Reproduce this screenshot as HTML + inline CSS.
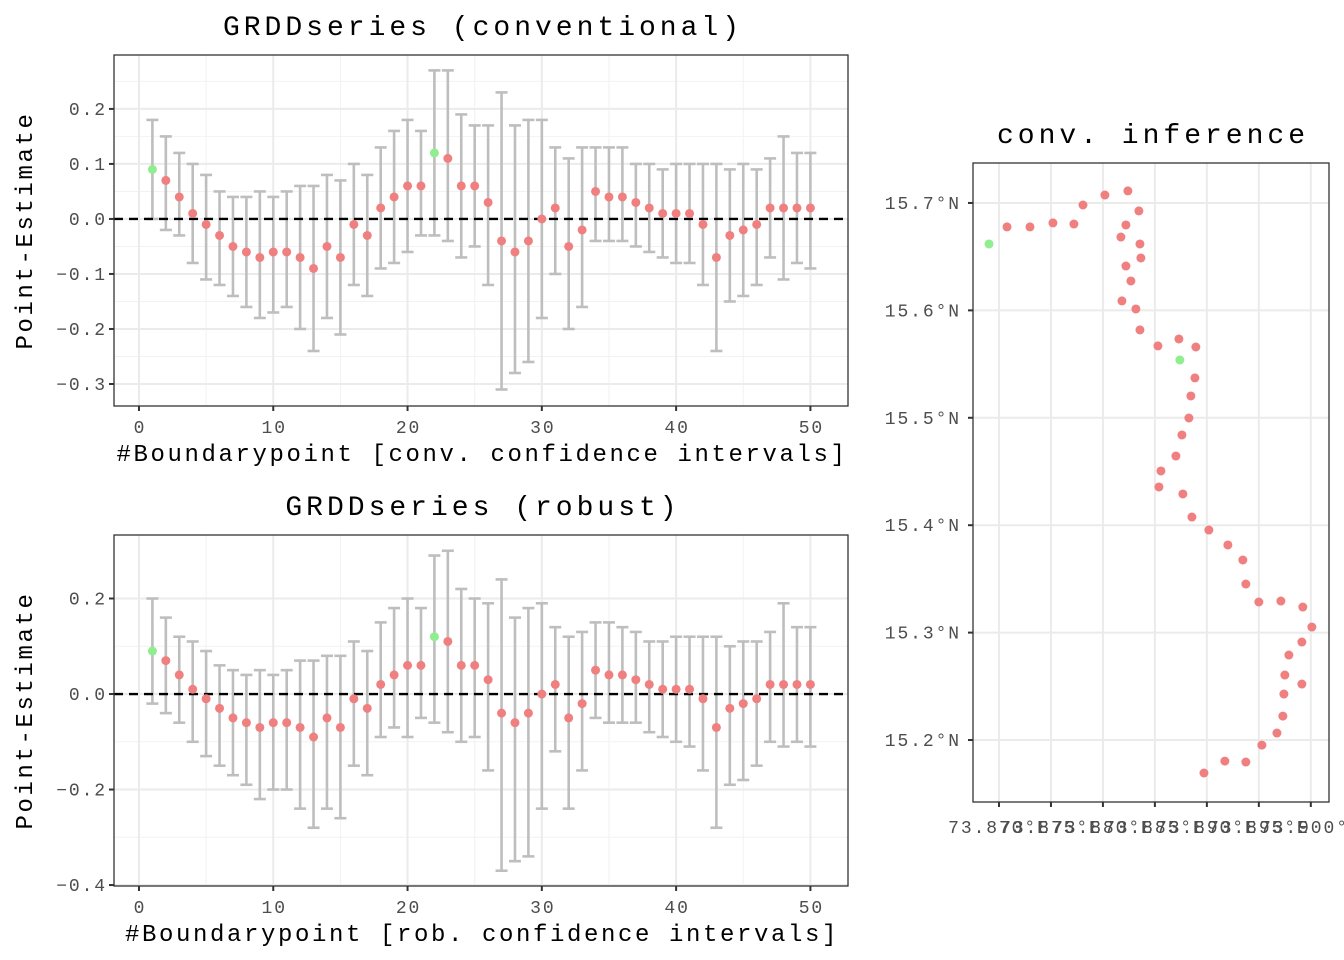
<!DOCTYPE html>
<html><head><meta charset="utf-8">
<style>
html,body{margin:0;padding:0;background:#fff;}
svg{display:block;font-family:"Liberation Mono",monospace;}
.title{font-size:28px;letter-spacing:4px;}
.axt{font-size:24px;letter-spacing:2.6px;}
.tick{font-size:18px;letter-spacing:1.9px;fill:#4d4d4d;}
</style></head>
<body>
<svg id="chart" width="1344" height="960" viewBox="0 0 1344 960" xmlns="http://www.w3.org/2000/svg"></svg>
<script>
// ---- data ----
const boundaryPoints = Array.from({length:50},(_,i)=>i+1);
const estimates = [0.09,0.07,0.04,0.01,-0.01,-0.03,-0.05,-0.06,-0.07,-0.06,-0.06,-0.07,-0.09,-0.05,-0.07,-0.01,-0.03,0.02,0.04,0.06,0.06,0.12,0.11,0.06,0.06,0.03,-0.04,-0.06,-0.04,0.00,0.02,-0.05,-0.02,0.05,0.04,0.04,0.03,0.02,0.01,0.01,0.01,-0.01,-0.07,-0.03,-0.02,-0.01,0.02,0.02,0.02,0.02];
const convLower = [0.00,-0.02,-0.03,-0.08,-0.11,-0.12,-0.14,-0.16,-0.18,-0.17,-0.16,-0.20,-0.24,-0.18,-0.21,-0.12,-0.14,-0.09,-0.08,-0.06,-0.03,-0.03,-0.04,-0.07,-0.05,-0.12,-0.31,-0.28,-0.26,-0.18,-0.10,-0.20,-0.16,-0.04,-0.04,-0.04,-0.05,-0.06,-0.07,-0.08,-0.08,-0.12,-0.24,-0.15,-0.14,-0.12,-0.07,-0.11,-0.08,-0.09];
const convUpper = [0.18,0.15,0.12,0.10,0.08,0.05,0.04,0.04,0.05,0.04,0.05,0.06,0.06,0.08,0.07,0.10,0.08,0.13,0.16,0.18,0.16,0.27,0.27,0.19,0.17,0.17,0.23,0.17,0.18,0.18,0.13,0.11,0.13,0.13,0.13,0.13,0.10,0.10,0.09,0.10,0.10,0.10,0.10,0.09,0.10,0.09,0.11,0.15,0.12,0.12];
const robLower = [-0.02,-0.04,-0.06,-0.10,-0.13,-0.15,-0.17,-0.19,-0.22,-0.20,-0.20,-0.24,-0.28,-0.24,-0.26,-0.15,-0.17,-0.09,-0.07,-0.09,-0.05,-0.06,-0.08,-0.10,-0.09,-0.16,-0.37,-0.35,-0.34,-0.24,-0.12,-0.24,-0.16,-0.05,-0.06,-0.06,-0.06,-0.08,-0.09,-0.10,-0.11,-0.16,-0.28,-0.19,-0.18,-0.15,-0.10,-0.11,-0.10,-0.11];
const robUpper = [0.20,0.16,0.12,0.11,0.09,0.06,0.05,0.04,0.05,0.04,0.05,0.07,0.07,0.08,0.08,0.11,0.09,0.15,0.18,0.20,0.18,0.29,0.30,0.22,0.20,0.19,0.24,0.16,0.18,0.19,0.14,0.12,0.13,0.15,0.15,0.14,0.13,0.11,0.11,0.12,0.12,0.12,0.12,0.10,0.11,0.11,0.13,0.19,0.14,0.14];
const highlighted = [1,22];
const xTicks = [0,10,20,30,40,50];
const convYTicks = [0.2,0.1,0.0,-0.1,-0.2,-0.3];
const robYTicks = [0.2,0.0,-0.2,-0.4];
const lons = [73.86904,73.87077,73.87298,73.87519,73.87721,73.87808,73.88019,73.88240,73.88346,73.88221,73.88173,73.88356,73.88365,73.88221,73.88269,73.88183,73.88317,73.88356,73.88529,73.88731,73.88894,73.88740,73.88885,73.88846,73.88827,73.88760,73.88702,73.88558,73.88539,73.88769,73.88856,73.89019,73.89202,73.89346,73.89375,73.89500,73.89712,73.89923,73.90010,73.89914,73.89789,73.89750,73.89914,73.89741,73.89731,73.89674,73.89529,73.89375,73.89173,73.88972];
const lats = [15.6618,15.6777,15.6777,15.6814,15.6804,15.6981,15.7074,15.7112,15.6926,15.6795,15.6683,15.6618,15.6488,15.6413,15.6274,15.6088,15.6013,15.5818,15.5669,15.5734,15.5659,15.5538,15.5371,15.5203,15.4998,15.4840,15.4644,15.4505,15.4356,15.4291,15.4076,15.3955,15.3816,15.3676,15.3452,15.3285,15.3294,15.3238,15.3052,15.2912,15.2791,15.2605,15.2521,15.2428,15.2223,15.2065,15.1953,15.1795,15.1804,15.1693];
const lonTicks = [73.870,73.875,73.880,73.885,73.890,73.895,73.900];
const lonTickLabels = ["73.870°E","73.875°E","73.880°E","73.885°E","73.890°E","73.895°E","73.900°E"];
const latTicks = [15.7,15.6,15.5,15.4,15.3,15.2];

const NS="http://www.w3.org/2000/svg";
const svg=document.getElementById('chart');
function mk(tag,attrs,parent,text){const e=document.createElementNS(NS,tag);for(const k in attrs)e.setAttribute(k,attrs[k]);if(text!==undefined)e.textContent=text;(parent||svg).appendChild(e);return e;}
function lin(d0,d1,r0,r1){return v=>r0+(v-d0)*(r1-r0)/(d1-d0);}
function fmt(v){return (v<0?"\u22120":"0")+"."+Math.round(Math.abs(v)*10);}

function errorPanel(name,top,yTop,yBot,yTicks,yMinor,lower,upper,title,xtitle){
  const L=114,R=848,T=top,B=top+351;
  const x=lin(-1.86,52.8,L,R), y=lin(yTop,yBot,T,B);
  const g=mk('g',{},svg);
  
  
  const bg=mk('rect',{x:L,y:T,width:R-L,height:B-T,fill:'#fff'},g);
  
  [5,15,25,35,45].forEach(v=>mk('line',{x1:x(v),x2:x(v),y1:T,y2:B,stroke:'#f2f2f2','stroke-width':1},g));
  yMinor.forEach(v=>mk('line',{x1:L,x2:R,y1:y(v),y2:y(v),stroke:'#f2f2f2','stroke-width':1},g));
  xTicks.forEach(v=>mk('line',{x1:x(v),x2:x(v),y1:T,y2:B,stroke:'#ebebeb','stroke-width':2},g));
  yTicks.forEach(v=>mk('line',{x1:L,x2:R,y1:y(v),y2:y(v),stroke:'#ebebeb','stroke-width':2},g));
  boundaryPoints.forEach((bp,i)=>{
    const eb=mk('g',{stroke:'#bebebe','stroke-width':2.6,fill:'none'},g);
    
    const xc=x(bp);
    mk('line',{x1:xc,x2:xc,y1:y(upper[i]),y2:y(lower[i])},eb);
    mk('line',{x1:xc-6,x2:xc+6,y1:y(upper[i]),y2:y(upper[i])},eb);
    mk('line',{x1:xc-6,x2:xc+6,y1:y(lower[i]),y2:y(lower[i])},eb);
  });
  const zl=mk('line',{x1:L,x2:R,y1:y(0),y2:y(0),stroke:'#000','stroke-width':2.4,'stroke-dasharray':'9,6'},g);
  
  boundaryPoints.forEach((bp,i)=>{
    const c=mk('circle',{cx:x(bp),cy:y(estimates[i]),r:4.5,fill:highlighted.includes(bp)?'#90ee90':'#f08080'},g);
    
  });
  mk('rect',{x:L,y:T,width:R-L,height:B-T,fill:'none',stroke:'#333','stroke-width':1.3},g);
  xTicks.forEach(v=>{
    mk('line',{x1:x(v),x2:x(v),y1:B,y2:B+5,stroke:'#333','stroke-width':2},g);
    const t=mk('text',{x:x(v)+1,y:B+27,'text-anchor':'middle','class':'tick'},g,String(v));
    
  });
  yTicks.forEach(v=>{
    mk('line',{x1:L-5,x2:L,y1:y(v),y2:y(v),stroke:'#333','stroke-width':2},g);
    const t=mk('text',{x:L-7,y:y(v)+6,'text-anchor':'end','class':'tick'},g,fmt(v));
    
  });
  const tt=mk('text',{x:(L+R)/2+2,y:T-20,'text-anchor':'middle','class':'title',fill:'#000'},g,title);
  
  const xt=mk('text',{x:(L+R)/2+1,y:B+55,'text-anchor':'middle','class':'axt',fill:'#000'},g,xtitle);
  
  const yt=mk('text',{x:0,y:0,'text-anchor':'middle','class':'axt',fill:'#000',transform:`translate(32,${(T+B)/2}) rotate(-90)`},g,'Point-Estimate');
  
}
errorPanel('conventional-panel',55,0.298,-0.34,convYTicks,[0.25,0.15,0.05,-0.05,-0.15,-0.25],convLower,convUpper,'GRDDseries (conventional)','#Boundarypoint [conv. confidence intervals]');
errorPanel('robust-panel',535,0.333,-0.402,robYTicks,[0.1,-0.1,-0.3],robLower,robUpper,'GRDDseries (robust)','#Boundarypoint [rob. confidence intervals]');

// map panel
(function(){
  const L=973,R=1329,T=163,B=802;
  const x=lin(73.8675,73.90175,L,R), y=lin(15.7372,15.1423,T,B);
  const g=mk('g',{},svg);
  
  
  lonTicks.forEach(v=>mk('line',{x1:x(v),x2:x(v),y1:T,y2:B,stroke:'#ebebeb','stroke-width':2},g));
  latTicks.forEach(v=>mk('line',{x1:L,x2:R,y1:y(v),y2:y(v),stroke:'#ebebeb','stroke-width':2},g));
  lons.forEach((lo,i)=>{
    const c=mk('circle',{cx:x(lo),cy:y(lats[i]),r:4.5,fill:highlighted.includes(i+1)?'#90ee90':'#f08080'},g);
    
  });
  mk('rect',{x:L,y:T,width:R-L,height:B-T,fill:'none',stroke:'#333','stroke-width':1.3},g);
  lonTicks.forEach((v,i)=>{
    mk('line',{x1:x(v),x2:x(v),y1:B,y2:B+5,stroke:'#333','stroke-width':2},g);
    const t=mk('text',{x:x(v),y:B+31,'text-anchor':'middle','class':'tick'},g,lonTickLabels[i]);
    
  });
  latTicks.forEach(v=>{
    mk('line',{x1:L-5,x2:L,y1:y(v),y2:y(v),stroke:'#333','stroke-width':2},g);
    const t=mk('text',{x:L-12,y:y(v)+6,'text-anchor':'end','class':'tick'},g,v.toFixed(1)+'°N');
    
  });
  const tt=mk('text',{x:(L+R)/2+2,y:T-20,'text-anchor':'middle','class':'title',fill:'#000'},g,'conv. inference');
  
})();
</script>
</body></html>
